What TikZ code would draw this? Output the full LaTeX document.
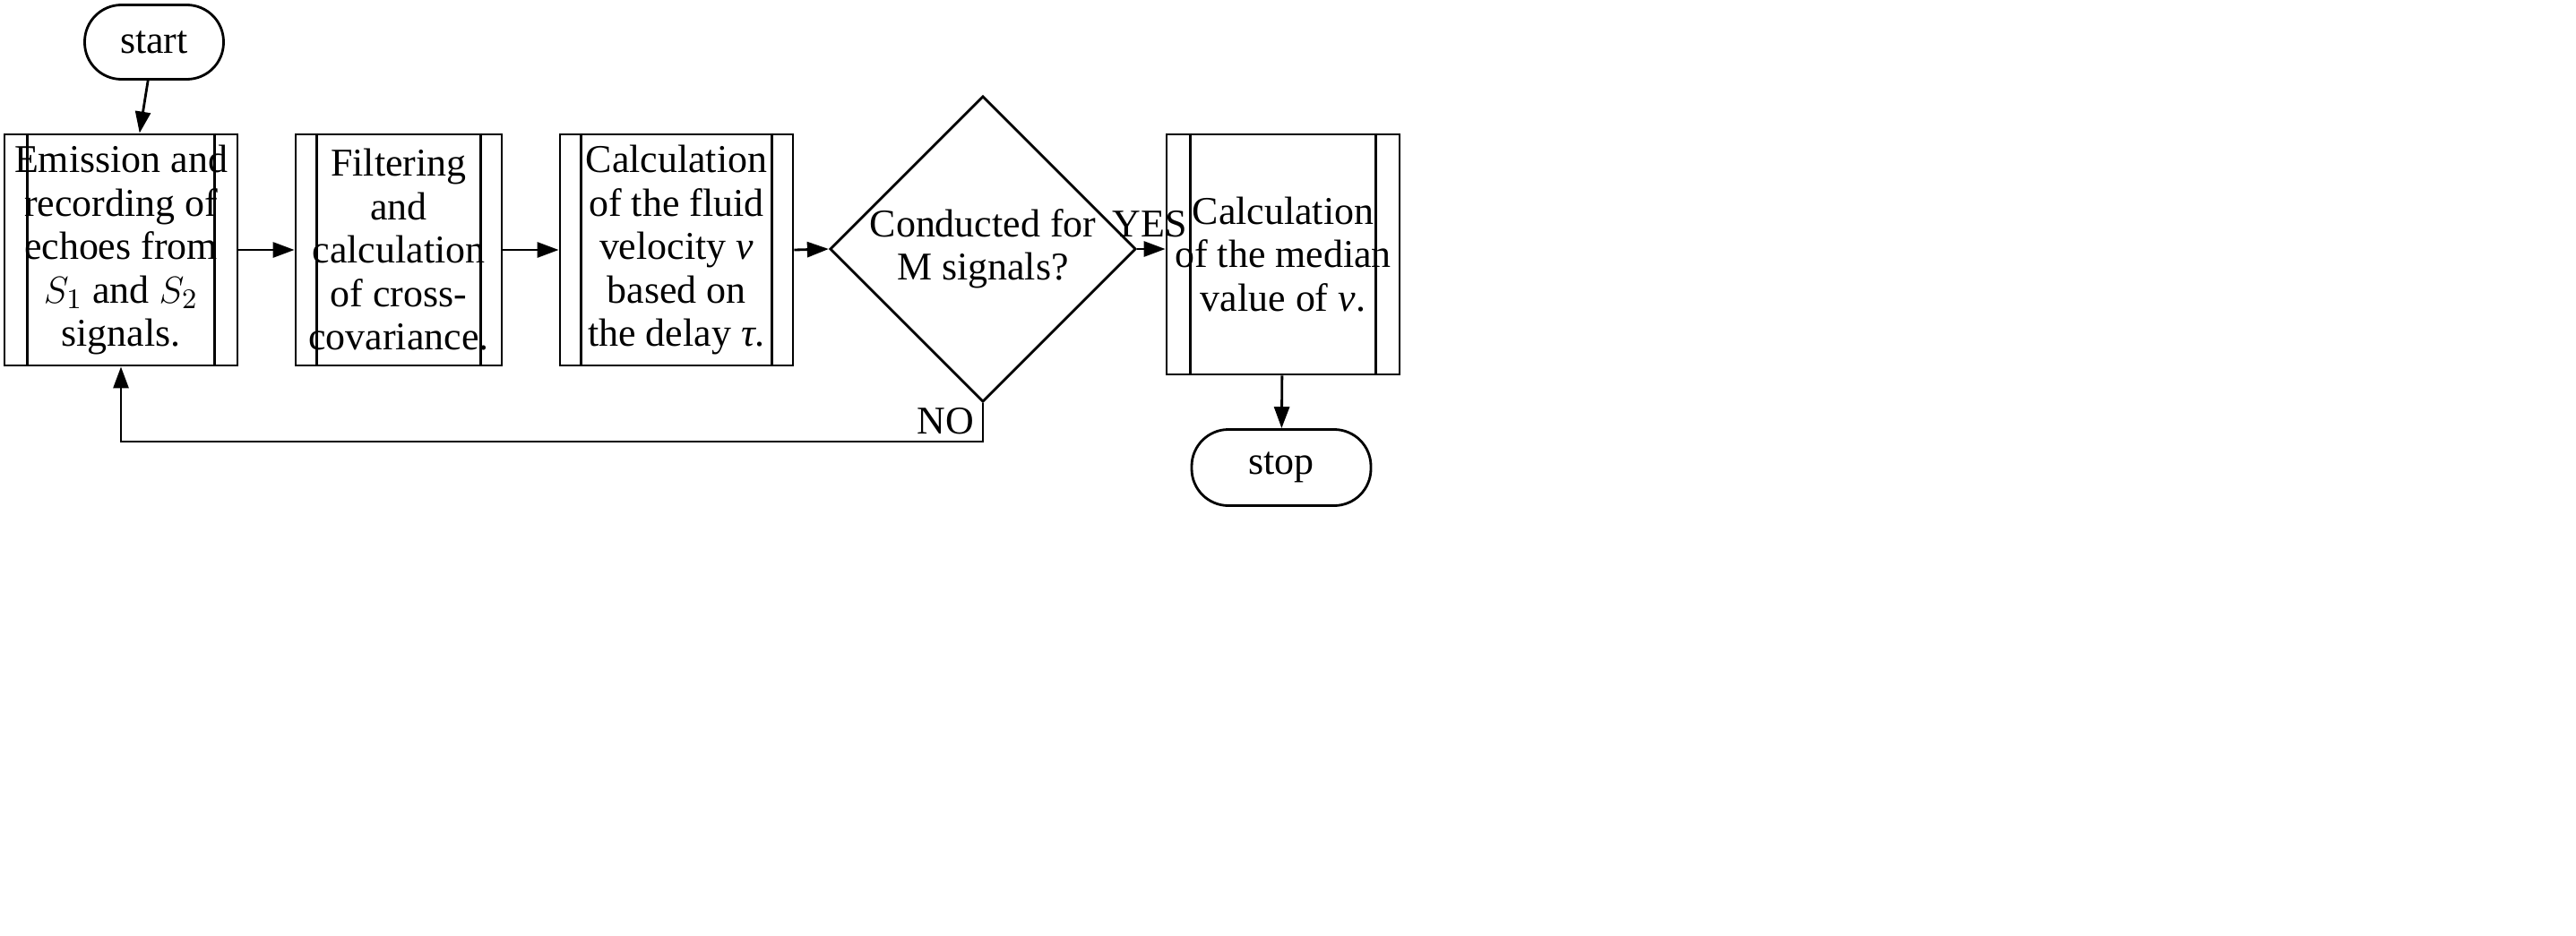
\documentclass[tikz,border=0pt]{standalone}
\usepackage{fontspec}
\setmainfont{Liberation Serif}
\usetikzlibrary{shapes.geometric,arrows.meta,positioning}
\tikzset{
  proc/.style={draw,thick,minimum height=2.58cm,align=center,inner sep=2pt},
  term/.style={draw,thick,rounded corners=0.41cm,minimum width=1.55cm,minimum height=0.83cm},
  dec/.style={draw,thick,diamond,aspect=1,minimum width=2.79cm,minimum height=2.8cm,inner sep=0pt,align=center},
  arr/.style={-{Triangle[length=0.24cm,width=0.17cm]},thick}
}
\begin{document}
\begin{tikzpicture}[x=1cm,y=1cm,font=\fontsize{12.5}{13.8}\selectfont]
\useasboundingbox (0,0) rectangle (28.75,-10.45);
\begin{scope}[scale=1,transform shape=false]
\end{scope}
\path (0,0);
\begin{scope}
\node[term] (start) at (1.72,-0.47) {start};
\node[proc,minimum width=2.6cm] (emit) at (1.35,-2.79) {Emission and\\recording of\\echoes from\\$S_1$ and $S_2$\\signals.};
\node[proc,minimum width=2.3cm] (filt) at (4.45,-2.79) {Filtering\\and\\calculation\\of cross-\\covariance.};
\node[proc,minimum width=2.6cm] (velo) at (7.55,-2.79) {Calculation\\of the fluid\\velocity \textit{v}\\based on\\the delay \textit{τ}.};
\node[dec] (check) at (10.97,-2.78) {Conducted for\\M signals?};
\node[proc,minimum width=2.6cm,minimum height=2.68cm] (med) at (14.32,-2.84) {Calculation\\of the median\\value of \textit{v}.};
\node[term,minimum width=2.0cm,minimum height=0.85cm] (stop) at (14.30,-5.22) {stop};
\coordinate (loopr) at (10.97,-4.93);
\coordinate (loopl) at (1.35,-4.93);
% inner lines of the process boxes
\foreach \b/\d in {emit/0.27,filt/0.25,velo/0.25,med/0.28}{
  \draw[thick] ([xshift=\d cm]\b.north west) -- ([xshift=\d cm]\b.south west);
  \draw[thick] ([xshift=-\d cm]\b.north east) -- ([xshift=-\d cm]\b.south east);
}
\draw[arr] (start) -- (emit);
\draw[arr] (emit) -- (filt);
\draw[arr] (filt) -- (velo);
\draw[arr] (velo.east) -- (check.west);
\draw[arr] (check.east) -- node[above,pos=0.45] {YES} (med.west |- check.east);
\draw[arr] (med) -- (stop);
\draw[arr] (check.south) -- (loopr) -- (loopl) -- (emit.south);
\node (no) at (10.55,-4.7) {NO};
\end{scope}
\end{tikzpicture}
\end{document}
